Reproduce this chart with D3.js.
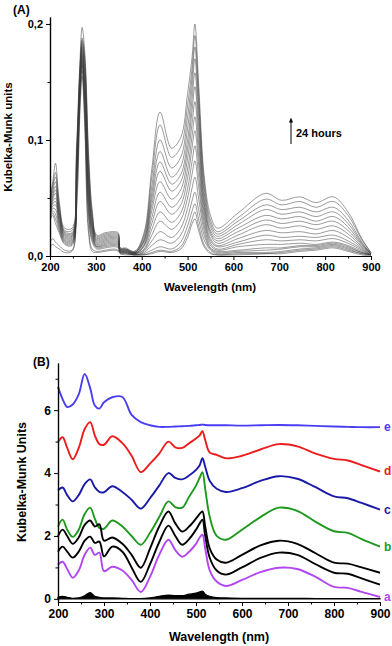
<!DOCTYPE html>
<html>
<head>
<meta charset="utf-8">
<script src="https://cdnjs.cloudflare.com/ajax/libs/d3/7.8.5/d3.min.js"></script>
<style>
body{margin:0;background:#fff;}
text{font-family:Arial,"Liberation Sans",sans-serif;font-weight:bold;fill:#000;}
</style>
</head>
<body>
<script>
var wlA = [200,206,212,220,232,248,258,265,270,276,284,292,302,320,340,349,353,365,385,
           405,422,440,465,485,500,510,516,524,536,550,565,610,670,705,745,780,818,850,880,900];

var hA14 = [0.050,0.064,0.080,0.048,0.024,0.024,0.095,0.165,0.197,0.175,0.090,0.040,0.018,0.020,0.021,0.020,0.007,0.007,0.004,
            0.020,0.075,0.124,0.093,0.102,0.140,0.172,0.200,0.150,0.070,0.035,0.024,0.037,0.054,0.048,0.051,0.046,0.051,0.038,0.015,0.003];
var hA13 = [0.048,0.061,0.072,0.045,0.022,0.022,0.090,0.160,0.188,0.170,0.085,0.037,0.017,0.019,0.020,0.019,0.007,0.006,0.004,
            0.018,0.068,0.113,0.085,0.094,0.130,0.163,0.190,0.142,0.065,0.031,0.021,0.033,0.049,0.044,0.047,0.042,0.047,0.035,0.014,0.003];
var hA12 = [0.046,0.059,0.068,0.042,0.021,0.020,0.088,0.158,0.186,0.166,0.080,0.034,0.016,0.018,0.019,0.018,0.006,0.006,0.003,
            0.016,0.060,0.100,0.076,0.085,0.120,0.155,0.180,0.134,0.060,0.028,0.019,0.030,0.044,0.040,0.042,0.038,0.042,0.031,0.012,0.002];
var hA11 = [0.044,0.056,0.064,0.040,0.020,0.019,0.085,0.155,0.184,0.162,0.075,0.032,0.015,0.017,0.018,0.017,0.006,0.006,0.003,
            0.014,0.054,0.090,0.068,0.077,0.110,0.146,0.170,0.126,0.055,0.025,0.017,0.027,0.040,0.036,0.038,0.034,0.038,0.028,0.011,0.002];
var hA10 = [0.042,0.053,0.060,0.038,0.019,0.018,0.082,0.152,0.182,0.158,0.070,0.030,0.014,0.016,0.017,0.016,0.006,0.005,0.003,
            0.013,0.049,0.081,0.062,0.070,0.100,0.136,0.158,0.117,0.050,0.022,0.015,0.024,0.035,0.032,0.034,0.030,0.034,0.025,0.010,0.002];
var hA9  = [0.040,0.051,0.057,0.036,0.018,0.017,0.080,0.150,0.180,0.154,0.066,0.028,0.013,0.015,0.016,0.015,0.005,0.005,0.003,
            0.012,0.044,0.073,0.056,0.064,0.092,0.126,0.146,0.108,0.046,0.020,0.013,0.021,0.031,0.028,0.030,0.027,0.030,0.022,0.009,0.002];
var hA8  = [0.038,0.049,0.054,0.034,0.017,0.016,0.077,0.148,0.178,0.150,0.062,0.026,0.012,0.014,0.015,0.014,0.005,0.005,0.002,
            0.010,0.039,0.064,0.049,0.057,0.084,0.115,0.133,0.098,0.042,0.018,0.011,0.018,0.027,0.024,0.026,0.023,0.026,0.019,0.008,0.002];
var hA7  = [0.036,0.047,0.050,0.032,0.016,0.015,0.074,0.146,0.176,0.146,0.058,0.024,0.011,0.013,0.014,0.013,0.005,0.004,0.002,
            0.009,0.033,0.055,0.042,0.050,0.075,0.104,0.120,0.088,0.038,0.015,0.009,0.015,0.022,0.020,0.021,0.019,0.022,0.016,0.007,0.001];
var hA6  = [0.035,0.045,0.047,0.030,0.015,0.014,0.071,0.144,0.174,0.142,0.054,0.022,0.010,0.012,0.013,0.012,0.004,0.004,0.002,
            0.008,0.028,0.047,0.036,0.044,0.067,0.094,0.108,0.079,0.034,0.013,0.008,0.012,0.018,0.016,0.017,0.016,0.018,0.013,0.006,0.001];
var hA5  = [0.034,0.043,0.044,0.028,0.014,0.013,0.068,0.142,0.172,0.138,0.050,0.020,0.009,0.011,0.012,0.011,0.004,0.004,0.002,
            0.006,0.023,0.038,0.029,0.037,0.058,0.082,0.095,0.069,0.030,0.011,0.006,0.010,0.014,0.013,0.014,0.013,0.015,0.011,0.005,0.001];
var hA4  = [0.033,0.041,0.040,0.026,0.013,0.012,0.065,0.140,0.170,0.134,0.046,0.018,0.008,0.010,0.011,0.010,0.004,0.003,0.002,
            0.005,0.018,0.030,0.023,0.031,0.050,0.071,0.082,0.060,0.026,0.009,0.005,0.008,0.010,0.010,0.011,0.010,0.012,0.009,0.004,0.001];
var hA3  = [0.032,0.039,0.036,0.024,0.012,0.011,0.062,0.138,0.168,0.130,0.042,0.016,0.008,0.009,0.010,0.009,0.003,0.003,0.001,
            0.004,0.013,0.021,0.016,0.024,0.041,0.059,0.068,0.050,0.022,0.007,0.004,0.005,0.007,0.007,0.009,0.009,0.011,0.008,0.003,0.001];
var hA2  = [0.031,0.037,0.032,0.022,0.011,0.010,0.058,0.136,0.166,0.126,0.038,0.014,0.007,0.008,0.009,0.008,0.003,0.003,0.001,
            0.003,0.009,0.014,0.011,0.018,0.033,0.048,0.055,0.040,0.018,0.006,0.003,0.004,0.005,0.006,0.008,0.008,0.010,0.007,0.003,0.001];
var hA1  = [0.030,0.035,0.028,0.020,0.010,0.009,0.055,0.134,0.164,0.122,0.034,0.012,0.006,0.007,0.008,0.007,0.003,0.002,0.001,
            0.002,0.005,0.008,0.006,0.012,0.026,0.039,0.045,0.032,0.014,0.005,0.002,0.003,0.003,0.004,0.006,0.007,0.009,0.006,0.002,0.001];
var hA0  = [0.012,0.015,0.012,0.009,0.005,0.005,0.045,0.128,0.160,0.115,0.025,0.006,0.004,0.005,0.006,0.005,0.002,0.002,0.001,
            0.001,0.003,0.005,0.004,0.008,0.020,0.032,0.038,0.026,0.010,0.003,0.001,0.002,0.002,0.003,0.005,0.006,0.008,0.005,0.002,0.001];
var hAz  = [0.008,0.010,0.008,0.006,0.003,0.004,0.040,0.120,0.155,0.108,0.020,0.004,0.003,0.004,0.005,0.004,0.002,0.001,0.001,
            0.001,0.002,0.004,0.003,0.006,0.016,0.028,0.032,0.022,0.008,0.002,0.001,0.001,0.002,0.002,0.004,0.005,0.007,0.004,0.001,0.000];

var spectraA = [hAz,hA0,hA1,hA2,hA3,hA4,hA5,hA6,hA7,hA8,hA9,hA10,hA11,hA12,hA13,hA14];
var yTicksA = [0, 0.1, 0.2];

// ---- panel B : offset spectra a..e ----
var wlB = [200,210,220,232,245,258,270,280,290,300,318,340,360,380,400,420,440,455,470,485,
           500,508,514,520,530,545,565,600,640,680,720,760,800,830,860,900];

var specE  = [6.74,6.35,6.10,6.18,6.50,7.15,6.70,6.15,6.05,6.25,6.41,6.42,5.85,5.62,5.52,5.47,5.47,5.48,5.49,5.50,
              5.52,5.53,5.54,5.53,5.52,5.52,5.52,5.51,5.52,5.53,5.52,5.50,5.48,5.47,5.46,5.46];
var specD  = [4.98,5.14,4.80,4.44,4.80,5.40,5.62,5.20,4.92,4.90,5.17,4.95,4.55,4.03,4.30,4.62,5.00,4.82,4.80,4.95,
              5.10,5.20,5.33,5.05,4.65,4.58,4.47,4.55,4.75,4.92,4.85,4.62,4.45,4.40,4.25,4.05];
var specC  = [3.45,3.54,3.30,3.10,3.30,3.65,3.80,3.55,3.40,3.39,3.58,3.40,3.15,2.87,3.20,3.60,4.00,3.85,3.80,3.92,
              4.10,4.25,4.47,4.20,3.75,3.50,3.40,3.52,3.75,3.90,3.82,3.55,3.26,3.20,3.05,2.84];
var specB  = [2.30,2.52,2.20,1.97,2.20,2.70,2.90,2.55,2.25,2.23,2.49,2.30,2.00,1.72,2.10,2.60,3.10,2.92,2.90,3.25,
              3.60,3.85,4.03,3.50,2.60,2.00,1.88,2.20,2.60,2.90,2.80,2.45,2.15,2.10,1.90,1.66];
var specK1 = [2.00,2.20,2.00,1.75,1.95,2.35,2.49,2.30,2.37,1.85,1.95,1.75,1.40,0.99,1.60,2.30,2.78,2.40,2.14,2.30,
              2.55,2.70,2.78,2.30,1.60,1.25,1.15,1.40,1.70,1.85,1.75,1.45,1.15,1.12,1.00,0.83];
var specK2 = [1.50,1.66,1.50,1.31,1.50,1.85,1.98,1.78,1.82,1.35,1.66,1.50,1.00,0.54,1.10,1.80,2.33,2.00,1.72,1.90,
              2.20,2.40,2.52,2.00,1.30,0.90,0.77,1.00,1.30,1.47,1.40,1.10,0.83,0.80,0.65,0.45];
var specA  = [1.09,1.18,0.95,0.67,0.90,1.40,1.63,1.40,1.47,0.88,1.02,0.90,0.60,0.22,0.70,1.40,1.88,1.55,1.34,1.50,
              1.75,1.95,2.04,1.60,0.90,0.55,0.41,0.60,0.85,0.99,0.95,0.70,0.38,0.35,0.22,0.06];
var specBase = [0.05,0.08,0.05,0.02,0.03,0.10,0.20,0.08,0.05,0.03,0.03,0.02,0.01,0.01,0.03,0.08,0.12,0.10,0.10,0.15,
                0.18,0.22,0.25,0.15,0.08,0.04,0.03,0.02,0.02,0.02,0.02,0.01,0.01,0.01,0.01,0.01];

var seriesB = [
  {name:"e", vals:specE,  color:"#4b3df2"},
  {name:"d", vals:specD,  color:"#ee1b1b"},
  {name:"c", vals:specC,  color:"#1a1aa8"},
  {name:"b", vals:specB,  color:"#1f981f"},
  {name:"",  vals:specK1, color:"#000000"},
  {name:"",  vals:specK2, color:"#000000"},
  {name:"a", vals:specA,  color:"#b146f2"}
];
var yTicksB = [0, 2, 4, 6];
var xTicks = [200,300,400,500,600,700,800,900];
var xMinor = [250,350,450,550,650,750,850];

var svg = d3.select("body").append("svg")
            .attr("width", 392)
            .attr("height", 646);

// ================= panel A =================
var xA = d3.scaleLinear().domain([200,900]).range([50,371]);
var yA = d3.scaleLinear().domain([0,0.206]).range([256,17]);

svg.append("clipPath").attr("id","clipA")
   .append("rect").attr("x",50).attr("y",10).attr("width",322).attr("height",246);

var lineA = d3.line()
              .x(function(d,i){ return xA(wlA[i]); })
              .y(function(d){ return yA(d); })
              .curve(d3.curveCatmullRom.alpha(0.5));

svg.append("g").attr("clip-path","url(#clipA)")
   .selectAll("path").data(spectraA).enter().append("path")
   .attr("d", lineA)
   .attr("fill","none")
   .attr("stroke","#3a3a3a")
   .attr("stroke-opacity",0.85)
   .attr("stroke-width",0.6);

svg.append("g").attr("class","axA").attr("transform","translate(0,256)")
   .call(d3.axisBottom(xA).tickValues(xTicks).tickSize(4).tickSizeOuter(0).tickFormat(d3.format("d")));
svg.append("g").attr("transform","translate(0,256)")
   .call(d3.axisBottom(xA).tickValues(xMinor).tickSize(2.5).tickSizeOuter(0).tickFormat(""));
svg.append("g").attr("class","axA").attr("transform","translate(50,0)")
   .call(d3.axisLeft(yA).tickValues(yTicksA).tickSize(4).tickSizeOuter(0)
         .tickFormat(function(d){ return d.toFixed(1).replace(".",","); }));
svg.append("g").attr("transform","translate(50,0)")
   .call(d3.axisLeft(yA).tickValues([0.05,0.15]).tickSize(2.5).tickSizeOuter(0).tickFormat(""));

svg.append("text").attr("x",13).attr("y",14).attr("font-size",12).text("(A)");
svg.append("text").attr("x",210).attr("y",291).attr("text-anchor","middle").attr("font-size",11.5).text("Wavelength (nm)");
svg.append("text").attr("transform","translate(12,137) rotate(-90)").attr("text-anchor","middle")
   .attr("font-size",11.5).text("Kubelka-Munk units");

// arrow "24 hours"
svg.append("defs").append("marker").attr("id","arr")
   .attr("viewBox","0 0 10 10").attr("refX",5).attr("refY",5)
   .attr("markerWidth",5).attr("markerHeight",7).attr("orient","auto")
   .append("path").attr("d","M0,1 L10,5 L0,9 z").attr("fill","#000");
svg.append("line").attr("x1",291).attr("x2",291).attr("y1",144).attr("y2",120)
   .attr("stroke","#000").attr("stroke-width",1).attr("marker-end","url(#arr)");
svg.append("text").attr("x",296).attr("y",137).attr("font-size",11).text("24 hours");

// ================= panel B =================
var xB = d3.scaleLinear().domain([200,900]).range([58,380]);
var yB = d3.scaleLinear().domain([-0.1,7.5]).range([602,363]);

var lineB = d3.line()
              .x(function(d,i){ return xB(wlB[i]); })
              .y(function(d){ return yB(d); })
              .curve(d3.curveCatmullRom.alpha(0.5));
var areaB = d3.area()
              .x(function(d,i){ return xB(wlB[i]); })
              .y0(yB(0))
              .y1(function(d){ return yB(d); })
              .curve(d3.curveMonotoneX);

svg.append("path").datum(specBase)
   .attr("d", areaB).attr("fill","#000").attr("stroke","#000").attr("stroke-width",1.2);

svg.selectAll("path.specB").data(seriesB).enter().append("path")
   .attr("class","specB")
   .attr("d", function(s){ return lineB(s.vals); })
   .attr("fill","none")
   .attr("stroke", function(s){ return s.color; })
   .attr("stroke-width",1.9);

svg.selectAll("text.lab").data(seriesB.filter(function(s){ return s.name != ""; })).enter().append("text")
   .attr("class","lab")
   .attr("x",384)
   .attr("y", function(s){ return yB(s.vals[s.vals.length-1]) + 4; })
   .attr("font-size",12)
   .style("fill", function(s){ return s.color; })
   .text(function(s){ return s.name; });

svg.append("g").attr("class","axB").attr("transform","translate(0,602)")
   .call(d3.axisBottom(xB).tickValues(xTicks).tickSize(4).tickSizeOuter(0).tickFormat(d3.format("d")));
svg.append("g").attr("transform","translate(0,602)")
   .call(d3.axisBottom(xB).tickValues(xMinor).tickSize(2.5).tickSizeOuter(0).tickFormat(""));
svg.append("g").attr("class","axB").attr("transform","translate(58,0)")
   .call(d3.axisLeft(yB).tickValues(yTicksB).tickSize(4).tickSizeOuter(0).tickFormat(d3.format("d")));
svg.append("g").attr("transform","translate(58,0)")
   .call(d3.axisLeft(yB).tickValues([1,3,5,7]).tickSize(2.5).tickSizeOuter(0).tickFormat(""));

svg.append("text").attr("x",33).attr("y",366).attr("font-size",12).text("(B)");
svg.append("text").attr("x",219).attr("y",641).attr("text-anchor","middle").attr("font-size",12.5).text("Wavelength (nm)");
svg.append("text").attr("transform","translate(26,482) rotate(-90)").attr("text-anchor","middle")
   .attr("font-size",12.5).text("Kubelka-Munk Units");

// axis styling
svg.selectAll(".axA .tick text").attr("font-size",11).style("font-weight","bold");
svg.selectAll(".axB .tick text").attr("font-size",12).style("font-weight","bold");
svg.selectAll(".domain").attr("stroke","#000").attr("stroke-width",1.2);
svg.selectAll(".tick line").attr("stroke","#000").attr("stroke-width",1);
</script>
</body>
</html>
